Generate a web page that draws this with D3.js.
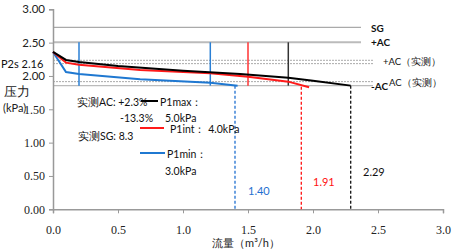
<!DOCTYPE html>
<html>
<head>
<meta charset="utf-8">
<script src="https://cdn.jsdelivr.net/npm/d3@7"></script>
<style>
  body { margin: 0; background: #fff; }
  svg text { font-family: Lato, "Open Sans", sans-serif; }
  .tick text { font-family: "Liberation Serif", serif; font-size: 12px; fill: #222; }
</style>
</head>
<body>
<div id="chart"></div>
<script>
// curves: flow (m3/h) vs pressure (kPa)
const maxFlow = [0, 0.1, 0.2, 0.5, 1.0, 1.44, 1.81, 2.0, 2.29];
const maxPres = [2.36, 2.24, 2.21, 2.15, 2.08, 2.03, 1.975, 1.93, 1.855];
const intFlow = [0, 0.1, 0.2, 0.67, 1.21, 1.5, 1.81, 1.97];
const intPres = [2.36, 2.2, 2.17, 2.09, 2.04, 1.99, 1.915, 1.83];
const minFlow = [0, 0.1, 0.2, 0.67, 1.21, 1.42];
const minPres = [2.36, 2.06, 2.03, 1.95, 1.9, 1.855];

const xTicks = [0, 0.5, 1.0, 1.5, 2.0, 2.5, 3.0];
const yTicks = [0, 0.5, 1.0, 1.5, 2.0, 2.5, 3.0];

// reference levels
const sgLevel = 2.73;
const acPlus = 2.505;
const acMinus = 1.855;
const acPlusMeas = [2.235, 2.185];
const acMinusMeas = 1.915;

// markers
const solidMarks = [{ x: 0.2, c: "#2a7fd4" }, { x: 1.21, c: "#2a7fd4" }, { x: 1.5, c: "#ff3333" }, { x: 1.81, c: "#333" }];
const endMarks = [
    { x: 1.40, top: 1.855, c: "#1f6fd0", label: "1.40", lx: 248, ly: 195 },
    { x: 1.91, top: 1.84, c: "#ff1111", label: "1.91", lx: 313, ly: 186 },
    { x: 2.29, top: 1.855, c: "#111", label: "2.29", lx: 363, ly: 176 }
];

const W = 452, H = 249;
const svg = d3.select("#chart").append("svg").attr("width", W).attr("height", H);

const x = d3.scaleLinear().domain([0, 3]).range([53, 443]);
const y = d3.scaleLinear().domain([0, 3]).range([209.3, 9.3]);

// reference lines
svg.append("line").attr("x1", x(0)).attr("x2", 361).attr("y1", y(sgLevel)).attr("y2", y(sgLevel))
    .attr("stroke", "#aaa").attr("stroke-width", 1.2);
svg.append("line").attr("x1", x(0)).attr("x2", 361).attr("y1", y(acPlus)).attr("y2", y(acPlus))
    .attr("stroke", "#bbb").attr("stroke-width", 2);
acPlusMeas.forEach(v => {
    svg.append("line").attr("x1", x(0)).attr("x2", 373).attr("y1", y(v)).attr("y2", y(v))
        .attr("stroke", "#aaa").attr("stroke-width", 1).attr("stroke-dasharray", "2,1");
});
svg.append("line").attr("x1", x(0)).attr("x2", 373).attr("y1", y(acMinusMeas)).attr("y2", y(acMinusMeas))
    .attr("stroke", "#aaa").attr("stroke-width", 1).attr("stroke-dasharray", "2,1");
svg.append("line").attr("x1", x(0)).attr("x2", 373).attr("y1", y(acMinus)).attr("y2", y(acMinus))
    .attr("stroke", "#bbb").attr("stroke-width", 1.2);

// vertical markers between +AC and -AC
solidMarks.forEach(m => {
    svg.append("line").attr("x1", x(m.x)).attr("x2", x(m.x)).attr("y1", y(acPlus)).attr("y2", y(acMinus))
        .attr("stroke", m.c).attr("stroke-width", 1.5);
});

// axes
const gx = svg.append("g").attr("transform", `translate(0,${y(0)})`)
    .call(d3.axisBottom(x).tickValues(xTicks).tickFormat(d3.format(".1f")).tickSize(4).tickPadding(12));
const gy = svg.append("g").attr("transform", `translate(${x(0)},0)`)
    .call(d3.axisLeft(y).tickValues(yTicks).tickFormat(d3.format(".2f")).tickSize(4).tickPadding(4));
[gx, gy].forEach(g => {
    g.select(".domain").attr("stroke", "#999").attr("stroke-width", 1.5);
    g.selectAll(".tick line").attr("stroke", "#999");
});
// upper y labels render in the sans face in the original
gy.selectAll(".tick text").filter(d => d >= 2).style("font-family", "Lato, sans-serif").style("font-size", "11.5px");

// dashed drop lines
endMarks.forEach(m => {
    svg.append("line").attr("x1", x(m.x)).attr("x2", x(m.x)).attr("y1", y(m.top)).attr("y2", y(0))
        .attr("stroke", m.c).attr("stroke-width", 1.3).attr("stroke-dasharray", "3,2");
    svg.append("text").attr("x", m.lx).attr("y", m.ly).attr("fill", m.c)
        .attr("font-size", 11).text(m.label);
});

// curves
const line = d3.line().x(d => x(d[0])).y(d => y(d[1]));
const curves = [
    { f: minFlow, p: minPres, c: "#1f78d1" },
    { f: intFlow, p: intPres, c: "#ff1a1a" },
    { f: maxFlow, p: maxPres, c: "#000" }
];
curves.forEach(cv => {
    svg.append("path").datum(d3.zip(cv.f, cv.p)).attr("d", line)
        .attr("fill", "none").attr("stroke", cv.c).attr("stroke-width", 2);
});

// right side labels
const rl = (tx, ty, t, bold, size) => svg.append("text").attr("x", tx).attr("y", ty)
    .attr("font-size", size || 10).attr("font-weight", bold ? "bold" : "normal").attr("fill", "#111").text(t);
rl(371, 32, "SG", true);
rl(371, 46, "+AC", true);
rl(383, 65, "+AC（实测）", false, 9.5);
rl(389, 86, "AC（实测）", false, 9.5);
rl(371, 90, "-AC", true);

// legend
svg.append("line").attr("x1", 141).attr("x2", 158).attr("y1", 101).attr("y2", 101).attr("stroke", "#000").attr("stroke-width", 2);
svg.append("line").attr("x1", 140).attr("x2", 164).attr("y1", 128).attr("y2", 128).attr("stroke", "#ff1a1a").attr("stroke-width", 2);
svg.append("line").attr("x1", 140).attr("x2", 165).attr("y1", 153).attr("y2", 153).attr("stroke", "#1f78d1").attr("stroke-width", 2);
const lt = (tx, ty, t) => svg.append("text").attr("x", tx).attr("y", ty).attr("font-size", 10.5).attr("fill", "#111").text(t);
lt(160, 106, "P1max：");
lt(165, 122, "5.0kPa");
lt(170, 133, "P1int：  4.0kPa");
lt(167, 158, "P1min：");
lt(165, 175, "3.0kPa");

// measured notes
lt(77, 106, "实测AC: +2.3%");
lt(120, 122, "-13.3%");
lt(78, 140, "实测SG: 8.3");

// left labels
svg.append("text").attr("x", 1).attr("y", 68).attr("font-size", 11).attr("fill", "#111").text("P2s 2.16");
svg.append("text").attr("x", 4).attr("y", 96).attr("font-size", 13).attr("fill", "#222").text("压力");
svg.append("text").attr("x", 3).attr("y", 112).attr("font-size", 11).attr("fill", "#222").text("(kPa)");

// x title
svg.append("text").attr("x", 246).attr("y", 247).attr("text-anchor", "middle")
    .attr("font-size", 11).attr("fill", "#222").text("流量（m³/h）");
</script>
</body>
</html>
